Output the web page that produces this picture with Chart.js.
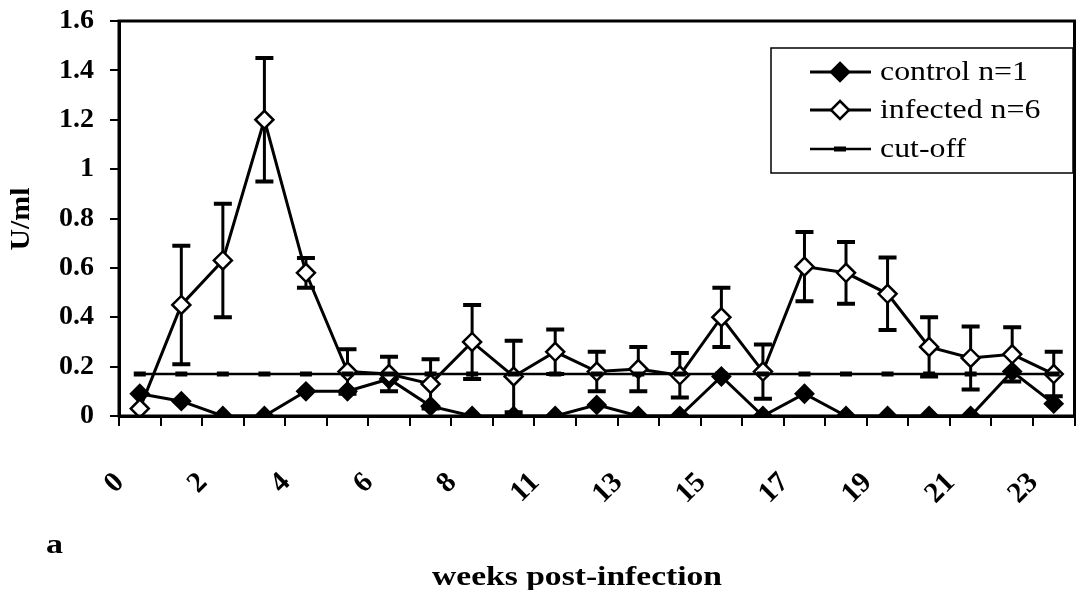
<!DOCTYPE html>
<html>
<head>
<meta charset="utf-8">
<script src="https://cdn.jsdelivr.net/npm/chart.js@4"></script>
<style>
  html, body { margin: 0; padding: 0; background: #fff; }
  #wrap { width: 1086px; height: 590px; }
</style>
</head>
<body>
<div id="wrap"><canvas id="chart" width="1086" height="590"></canvas></div>
<script>
// weeks post-infection (week 9 was not sampled)
const weeks = ['0', '1', '2', '3', '4', '5', '6', '7', '8', '10', '11', '12', '13', '14', '15', '16', '17', '18', '19', '20', '21', '22', '23'];

const control = [0.09, 0.06, 0, 0, 0.1, 0.1, 0.15, 0.04, 0, 0, 0, 0.045, 0, 0, 0.16, 0, 0.09, 0, 0, 0, 0, 0.18, 0.05];
const infected = [0.03, 0.45, 0.63, 1.2, 0.58, 0.18, 0.17, 0.13, 0.3, 0.16, 0.26, 0.18, 0.19, 0.165, 0.4, 0.18, 0.605, 0.58, 0.495, 0.28, 0.235, 0.25, 0.17];
const infectedErr = [0, 0.24, 0.23, 0.25, 0.06, 0.09, 0.07, 0.1, 0.15, 0.145, 0.09, 0.08, 0.09, 0.09, 0.12, 0.11, 0.14, 0.125, 0.147, 0.12, 0.128, 0.11, 0.09];
const cutoff = [0.17, 0.17, 0.17, 0.17, 0.17, 0.17, 0.17, 0.17, 0.17, 0.17, 0.17, 0.17, 0.17, 0.17, 0.17, 0.17, 0.17, 0.17, 0.17, 0.17, 0.17, 0.17, 0.17];

const SERIF = '"Liberation Serif", "Times New Roman", serif';

// draw text squeezed/stretched to a given width (the scan is a bit wide)
function fitText(ctx, text, x, y, font, width, align) {
    ctx.save();
    ctx.font = font;
    const w = ctx.measureText(text).width;
    const sx = width / w;
    ctx.translate(x, y);
    ctx.scale(sx, 1);
    ctx.textAlign = align || 'center';
    ctx.textBaseline = 'middle';
    ctx.fillStyle = '#000';
    ctx.fillText(text, 0, 0);
    ctx.restore();
}

function diamond(ctx, x, y, r, fill) {
    ctx.beginPath();
    ctx.moveTo(x, y - r);
    ctx.lineTo(x + r, y);
    ctx.lineTo(x, y + r);
    ctx.lineTo(x - r, y);
    ctx.closePath();
    ctx.fillStyle = fill;
    ctx.fill();
    ctx.lineWidth = 2.5;
    ctx.strokeStyle = '#000';
    ctx.stroke();
}

// error bars under the markers
const errorBars = {
    id: 'errorBars',
    beforeDatasetsDraw(chart) {
        const ctx = chart.ctx;
        const meta = chart.getDatasetMeta(1);
        const yScale = chart.scales.y;
        ctx.save();
        ctx.strokeStyle = '#000';
        meta.data.forEach((pt, i) => {
            const e = infectedErr[i];
            if (!e) return;
            const top = yScale.getPixelForValue(infected[i] + e);
            const bot = yScale.getPixelForValue(Math.max(0, infected[i] - e));
            ctx.lineWidth = 3;
            ctx.beginPath();
            ctx.moveTo(pt.x, top);
            ctx.lineTo(pt.x, bot);
            ctx.stroke();
            ctx.lineWidth = 4;
            ctx.beginPath();
            ctx.moveTo(pt.x - 9, top);
            ctx.lineTo(pt.x + 9, top);
            ctx.moveTo(pt.x - 9, bot);
            ctx.lineTo(pt.x + 9, bot);
            ctx.stroke();
        });
        ctx.restore();
    }
};

// frame, legend box and titles
const decorations = {
    id: 'decorations',
    afterDraw(chart) {
        const ctx = chart.ctx;
        const a = chart.chartArea;
        ctx.save();
        ctx.strokeStyle = '#000';
        ctx.lineWidth = 3;
        ctx.strokeRect(a.left, a.top, a.right - a.left, a.bottom - a.top);

        // legend
        ctx.lineWidth = 1.5;
        ctx.fillStyle = '#fff';
        ctx.fillRect(771, 48, 302, 125);
        ctx.strokeRect(771, 48, 302, 125);
        const rows = [72, 110, 149];
        const names = chart.data.datasets.map(d => d.label);
        rows.forEach((y, i) => {
            ctx.strokeStyle = '#000';
            ctx.lineWidth = i === 2 ? 2.5 : 3;
            ctx.beginPath();
            ctx.moveTo(810, y);
            ctx.lineTo(871, y);
            ctx.stroke();
            if (i === 0) diamond(ctx, 840, y, 9, '#000');
            if (i === 1) diamond(ctx, 840, y, 9, '#fff');
            if (i === 2) {
                ctx.lineWidth = 5;
                ctx.beginPath();
                ctx.moveTo(834, y);
                ctx.lineTo(846, y);
                ctx.stroke();
            }
        });
        ctx.font = '28px ' + SERIF;
        const sx = 148 / ctx.measureText(names[0]).width;
        names.forEach((n, i) => {
            ctx.font = '28px ' + SERIF;
            fitText(ctx, n, 880, rows[i] + 1, '28px ' + SERIF, ctx.measureText(n).width * sx, 'left');
        });

        // axis titles
        ctx.save();
        ctx.translate(22, 219);
        ctx.rotate(-Math.PI / 2);
        fitText(ctx, 'U/ml', 0, 0, 'bold 27px ' + SERIF, 63, 'center');
        ctx.restore();
        fitText(ctx, 'weeks post-infection', 577, 578, 'bold 27px ' + SERIF, 290, 'center');
        fitText(ctx, 'a', 46, 546, 'bold 28px ' + SERIF, 17, 'left');
        ctx.restore();
    }
};

const ctx = document.getElementById('chart').getContext('2d');
const myChart = new Chart(ctx, {
    type: 'line',
    data: {
        labels: weeks,
        datasets: [
            {
                label: 'control n=1', data: control, order: 3,
                borderColor: '#000', borderWidth: 3, tension: 0,
                pointStyle: 'rectRot', pointRadius: 9, pointBackgroundColor: '#000',
                pointBorderColor: '#000', pointBorderWidth: 2
            },
            {
                label: 'infected n=6', data: infected, order: 2,
                borderColor: '#000', borderWidth: 3, tension: 0,
                pointStyle: 'rectRot', pointRadius: 9, pointBackgroundColor: '#fff',
                pointBorderColor: '#000', pointBorderWidth: 2.5
            },
            {
                label: 'cut-off', data: cutoff, order: 1,
                borderColor: '#000', borderWidth: 2.5, tension: 0,
                pointStyle: 'line', pointRadius: 6, pointBorderColor: '#000',
                pointBorderWidth: 5
            }
        ]
    },
    options: {
        responsive: false,
        animation: false,
        devicePixelRatio: 1,
        layout: { padding: { top: 21, right: 9, left: 0, bottom: 0 } },
        plugins: {
            legend: { display: false },
            tooltip: { enabled: false }
        },
        scales: {
            x: {
                type: 'category',
                offset: true,
                grid: { offset: true, drawOnChartArea: false, drawTicks: true, tickLength: 10, color: '#000', lineWidth: 2 },
                border: { color: '#000', width: 3 },
                ticks: {
                    autoSkip: false,
                    minRotation: 45,
                    maxRotation: 45,
                    labelOffset: -20,
                    padding: 40,
                    color: '#000',
                    font: { family: SERIF, size: 29, weight: 'bold' },
                    callback: function(value, index) {
                        return index % 2 === 0 ? this.getLabelForValue(value) : '';
                    }
                },
                afterFit(scale) {
                    scale.height = 174;
                    scale.paddingLeft = 0;
                    scale.paddingRight = 0;
                }
            },
            y: {
                min: 0,
                max: 1.6,
                grid: { drawOnChartArea: false, drawTicks: true, tickLength: 9, color: '#000', lineWidth: 2 },
                border: { color: '#000', width: 3 },
                ticks: {
                    stepSize: 0.2,
                    padding: 16,
                    color: '#000',
                    font: { family: SERIF, size: 28, weight: 'bold' },
                    callback: v => String(+v.toFixed(1))
                },
                afterFit(scale) {
                    scale.width = 119;
                    scale.paddingTop = 0;
                    scale.paddingBottom = 0;
                }
            }
        }
    },
    plugins: [errorBars, decorations]
});
</script>
</body>
</html>
